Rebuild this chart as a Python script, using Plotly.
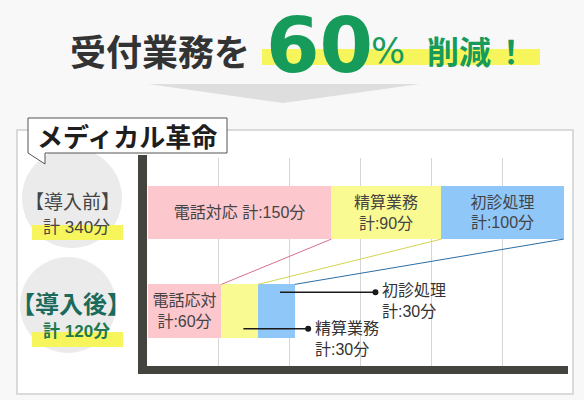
import plotly.graph_objects as go

# ---- canvas helpers (pixel -> paper) ----
W, H = 584, 400


def px(x):
    return x / W


def py(y):
    return 1 - y / H


CJK = "Noto Sans CJK JP"
MIX = "Liberation Sans, Noto Sans CJK JP"   # latin digits + japanese glyphs
GREEN = "#179b5b"

# ---- data ----
stages = ["導入後", "導入前"]              # y = 0, 1
tasks = ["電話対応", "精算業務", "初診処理"]
minutes_before = [150, 90, 100]
minutes_after = [60, 30, 30]
before_labels = ["電話対応 計:{}分", "精算業務<br>計:{}分", "初診処理<br>計:{}分"]
after_labels = ["電話応対<br>計:{}分", "", ""]
callout_names = ["", "精算業務", "初診処理"]

bar_colors = ["#fdc7ce", "#fafa92", "#8fc7f9"]
link_colors = ["#d8708b", "#d4d450", "#2b6ea3"]

total_before = sum(minutes_before)
total_after = sum(minutes_after)
reduction = round((1 - total_after / total_before) * 100, -1)

BAR_W = 0.54
Y_AFTER, Y_BEFORE = 0, 1

fig = go.Figure()

# stacked horizontal bars
for i, t in enumerate(tasks):
    fig.add_trace(go.Bar(
        y=[Y_AFTER, Y_BEFORE],
        x=[minutes_after[i], minutes_before[i]],
        orientation="h",
        width=BAR_W,
        name=t,
        marker=dict(color=bar_colors[i], line=dict(width=0)),
        text=[after_labels[i].format(minutes_after[i]),
              before_labels[i].format(minutes_before[i])],
        textposition="inside",
        insidetextanchor="middle",
        textangle=0,
        textfont=dict(family=MIX, size=16, color="#444"),
        hoverinfo="skip",
    ))

# connectors between segment ends (after -> before)
cum_a, cum_b = 0, 0
after_starts = []
for i in range(len(tasks)):
    after_starts.append(cum_a)
    cum_a += minutes_after[i]
    cum_b += minutes_before[i]
    fig.add_trace(go.Scatter(
        x=[cum_a, cum_b],
        y=[Y_AFTER + BAR_W / 2, Y_BEFORE - BAR_W / 2],
        mode="lines",
        line=dict(color=link_colors[i], width=1),
        hoverinfo="skip",
    ))

# callouts for the small after-segments
callout_offset = {1: -0.18, 2: 0.19}   # vertical position within the bar
callout_len = {1: 53, 2: 78}           # leader length in minutes
annotations = []
for i in (1, 2):
    x0 = after_starts[i] + minutes_after[i] / 2 + 3
    x1 = x0 + callout_len[i]
    yy = Y_AFTER + callout_offset[i]
    fig.add_trace(go.Scatter(
        x=[x0, x1], y=[yy, yy], mode="lines",
        line=dict(color="#1a1a1a", width=1.5), hoverinfo="skip"))
    fig.add_trace(go.Scatter(
        x=[x1], y=[yy], mode="markers",
        marker=dict(color="#1a1a1a", size=6), hoverinfo="skip"))
    annotations.append(dict(
        x=x1, y=yy, xref="x", yref="y", xanchor="left", yanchor="top",
        xshift=5, yshift=12, align="left", showarrow=False,
        text=f"{callout_names[i]}<br>計:{minutes_after[i]}分",
        font=dict(family=MIX, size=16, color="#333")))

# ---- headline ----
annotations += [
    dict(x=px(160), y=py(50), text="<b>受付業務を</b>",
         font=dict(family=CJK, size=36, color="#333")),
    dict(x=px(319), y=py(45), text=f"<b>{int(reduction)}</b>", borderpad=0,
         font=dict(family="DejaVu Sans", size=77, color=GREEN)),
    dict(x=px(388), y=py(51), text="%",
         font=dict(family="DejaVu Sans", size=36, color=GREEN)),
    dict(x=px(459), y=py(50), text="<b>削減</b>",
         font=dict(family=CJK, size=32, color=GREEN)),
    dict(x=px(511), y=py(50), text="<b>！</b>",
         font=dict(family=CJK, size=32, color=GREEN)),
    # ---- panel title ----
    dict(x=px(127), y=py(135), text="<b>メディカル革命</b>",
         font=dict(family=CJK, size=26, color="#1e1e1e")),
    # ---- stage labels ----
    dict(x=px(72), y=py(200), text=f"【{stages[1]}】",
         font=dict(family=CJK, size=19, color="#444")),
    dict(x=px(76), y=py(228), text=f"計 {total_before}分",
         font=dict(family=MIX, size=17, color="#444")),
    dict(x=px(71), y=py(302), text=f"<b>【{stages[0]}】</b>",
         font=dict(family=CJK, size=24, color="#1b6b5c")),
    dict(x=px(76), y=py(331), text=f"<b>計 {total_after}分</b>",
         font=dict(family=MIX, size=17, color="#1e7a4c")),
]
for a in annotations[-10:]:
    a.update(xref="paper", yref="paper", xanchor="center",
             yanchor="middle", showarrow=False)


def rect(x0, y0, x1, y1, fill, layer="below", line=None):
    return dict(type="rect", xref="paper", yref="paper",
                x0=px(x0), x1=px(x1), y0=py(y1), y1=py(y0),
                fillcolor=fill, layer=layer,
                line=line or dict(width=0))


def path(points, fill, layer="below", line=None):
    d = "M " + " L ".join(f"{px(x)},{py(y)}" for x, y in points) + " Z"
    return dict(type="path", xref="paper", yref="paper", path=d,
                fillcolor=fill, layer=layer, line=line or dict(width=0))


shapes = [
    # white panel
    rect(17, 130, 573, 394, "white", line=dict(color="#dadada", width=2)),
    # grey discs behind the stage labels
    dict(type="circle", xref="paper", yref="paper", x0=px(22), x1=px(122),
         y0=py(248), y1=py(148), fillcolor="#ebebeb", line=dict(width=0),
         layer="below"),
    dict(type="circle", xref="paper", yref="paper", x0=px(20), x1=px(116),
         y0=py(353), y1=py(257), fillcolor="#ebebeb", line=dict(width=0),
         layer="below"),
    # marker-pen highlights
    rect(262, 49, 540, 65, "#f6f65c"),
    rect(32, 225, 123, 240, "#f6f65c"),
    rect(32, 332, 123, 347, "#f6f65c"),
    # downward arrow
    path([(148, 84), (420, 84), (283, 103)], "#dedede"),
    # heavy axes
    rect(138, 155, 147, 374, "#44443f", layer="above"),
    rect(138, 366, 568, 374, "#44443f", layer="above"),
    # speech-bubble label box
    path([(28, 118), (227, 118), (227, 153), (45, 153), (45, 164), (28, 153)],
         "white", layer="above", line=dict(color="#555", width=1)),
]

fig.update_layout(
    width=W, height=H,
    margin=dict(l=0, r=0, t=0, b=0),
    paper_bgcolor="#f8f8f8",
    plot_bgcolor="white",
    barmode="stack",
    showlegend=False,
    bargap=0,
    xaxis=dict(domain=[px(148), px(568)], range=[0, 343.5],
               showgrid=True, gridcolor="#d6d6d6", gridwidth=1,
               tick0=0, dtick=58, showticklabels=False, zeroline=False,
               showline=False, ticks=""),
    yaxis=dict(domain=[py(370), py(158)], range=[-0.599, 1.553],
               showgrid=False, showticklabels=False, zeroline=False,
               showline=False, ticks=""),
    shapes=shapes,
    annotations=annotations,
    uniformtext=dict(minsize=8),
)

fig.write_html("out.html")
